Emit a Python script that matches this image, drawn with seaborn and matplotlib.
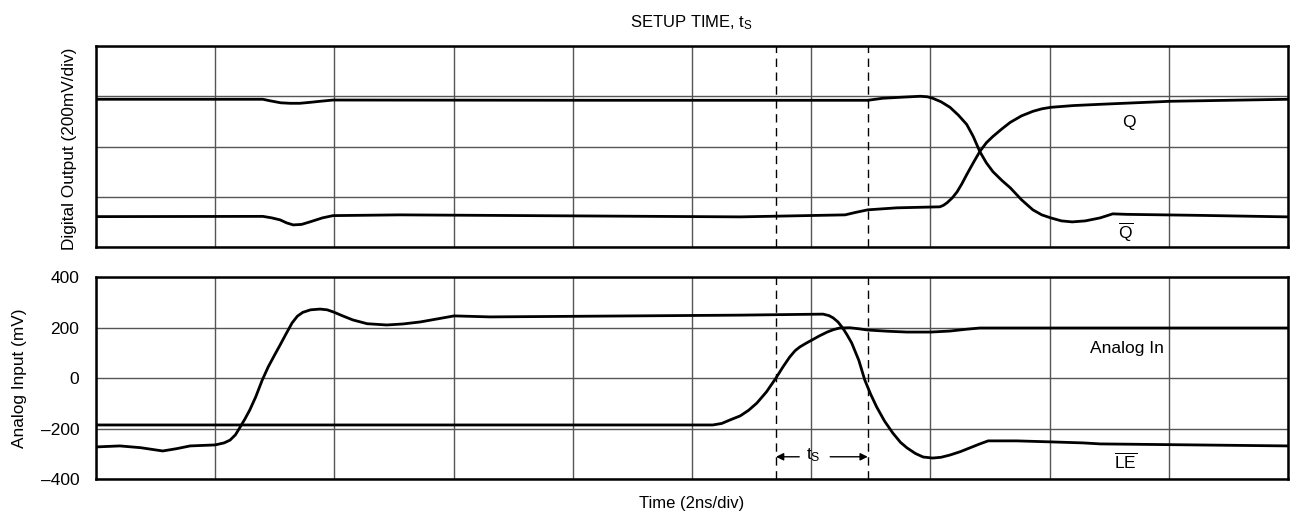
"""
Setup time scope capture: digital outputs (Q, Q-bar) and analog input / LE-bar.
"""

import numpy as np
import pandas as pd
import matplotlib
matplotlib.use("Agg")
import matplotlib.pyplot as plt
import seaborn as sns

# ── Data (time in ns, 2 ns/div) ─────────────
qbar_t = [0.0, 2.80, 2.92, 3.10, 3.26, 3.42, 3.60, 3.76, 3.98, 8.46, 12.95, 13.20, 13.50,
          13.83, 13.95, 14.04, 14.18, 14.33, 14.47, 14.61, 14.72, 14.83, 14.94, 15.05,
          15.20, 15.34, 15.53, 15.72, 15.87, 16.02, 16.20, 16.38, 16.60, 16.85, 17.06,
          17.30, 18.52, 20.0]
qbar_mv = [588, 588, 582, 574, 572, 572, 576, 580, 585, 584, 584, 592, 596,
           600, 598, 592, 578, 556, 525, 488, 440, 380, 335, 300,
           265, 236, 188, 148, 128, 116, 104, 100, 104, 116, 132,
           130, 126, 120]

q_t = [0.0, 2.80, 2.95, 3.09, 3.20, 3.31, 3.45, 3.59, 3.80, 3.98, 5.10, 10.81, 12.57,
       12.75, 12.95, 13.44, 14.16, 14.22, 14.28, 14.37, 14.45, 14.53, 14.61, 14.72,
       14.83, 14.94, 15.05, 15.20, 15.34, 15.53, 15.72, 15.87, 16.02, 16.40, 16.85,
       18.02, 20.0]
q_mv = [121, 122, 116, 108, 96, 88, 90, 100, 116, 125, 128, 120, 128,
        138, 148, 156, 160, 166, 176, 196, 220, 252, 288, 335,
        380, 415, 440, 470, 496, 522, 540, 550, 556, 563, 568,
        580, 588]

le_t = [0.0, 0.40, 0.75, 1.12, 1.35, 1.58, 2.00, 2.15, 2.25, 2.34, 2.42, 2.50, 2.58,
        2.68, 2.79, 2.89, 2.99, 3.09, 3.19, 3.29, 3.38, 3.47, 3.60, 3.76, 3.88, 3.99,
        4.15, 4.31, 4.55, 4.88, 5.15, 5.44, 5.75, 6.01, 6.61, 10.81, 12.20, 12.30,
        12.37, 12.45, 12.53, 12.60, 12.68, 12.80, 12.90, 13.00, 13.10, 13.23, 13.37,
        13.50, 13.61, 13.75, 13.88, 14.04, 14.18, 14.33, 14.50, 14.66, 14.82, 14.97,
        15.45, 16.02, 16.56, 16.85, 20.0]
le_mv = [-273, -269, -276, -289, -280, -269, -265, -257, -246, -225, -194, -162, -127,
         -75, -8, 44, 88, 131, 175, 218, 245, 260, 270, 273, 270, 261,
         245, 230, 215, 210, 214, 222, 235, 246, 242, 249, 253, 247,
         238, 222, 198, 172, 139, 70, -8, -65, -115, -170, -218,
         -255, -277, -299, -313, -317, -314, -305, -292, -277, -262, -249,
         -249, -253, -257, -261, -269]

ain_t = [0.0, 10.35, 10.50, 10.64, 10.81, 10.95, 11.09, 11.25, 11.41, 11.53, 11.64,
         11.73, 11.81, 11.91, 12.01, 12.14, 12.27, 12.38, 12.48, 12.65, 12.80, 12.95,
         13.30, 13.61, 14.01, 14.33, 14.60, 14.83, 20.0]
ain_mv = [-186, -186, -180, -166, -150, -128, -99, -55, 0, 45, 83,
          108, 123, 137, 150, 167, 182, 192, 198, 199, 195, 190,
          185, 182, 182, 186, 193, 198, 198]

ts_start, ts_end = 11.41, 12.95
ytick_vals = [-400, -200, 0, 200, 400]
ytick_labels = ["\u2013400", "\u2013200", "0", "200", "400"]

# ── Style ───────────────────────────────────
sns.set_theme(style="white")
plt.rcParams["font.family"] = ["Liberation Sans", "DejaVu Sans"]
plt.rcParams["mathtext.fontset"] = "custom"
plt.rcParams["mathtext.rm"] = "Liberation Sans"
plt.rcParams["mathtext.it"] = "Liberation Sans"
plt.rcParams["text.color"] = "black"
plt.rcParams["ytick.color"] = "black"
plt.rcParams["ytick.labelcolor"] = "black"

FS = 12
GRID = "#555555"
fig = plt.figure(figsize=(12.97, 5.17), dpi=100, facecolor="white")
ax_top = fig.add_axes([0.0740, 0.5222, 0.9190, 0.3888])
ax_bot = fig.add_axes([0.0740, 0.0735, 0.9190, 0.3907])


def style_axes(ax, ylim, step):
    ax.set_xlim(0, 20)
    ax.set_ylim(*ylim)
    ax.set_xticks(np.arange(0, 21, 2))
    ax.set_yticks(np.arange(ylim[0], ylim[1] + 1, step))
    ax.grid(True, color=GRID, lw=1.0)
    ax.tick_params(length=0)
    ax.set_xticklabels([])
    ax.set_xlabel("")
    ax.set_ylabel("")
    for sp in ax.spines.values():
        sp.set_visible(True)
        sp.set_color("black")
        sp.set_linewidth(1.8)
    ax.axvline(ts_start, color="black", lw=1.0, ls=(0, (6, 4)), zorder=3)
    ax.axvline(ts_end, color="black", lw=1.0, ls=(0, (6, 4)), zorder=3)


# ── Top: digital output ─────────────────────
top_df = pd.concat([
    pd.DataFrame({"t": qbar_t, "v": qbar_mv, "sig": "Qbar"}),
    pd.DataFrame({"t": q_t, "v": q_mv, "sig": "Q"}),
])
sns.lineplot(data=top_df, x="t", y="v", units="sig", estimator=None, sort=False,
             color="black", lw=2.0, ax=ax_top, legend=False, zorder=4)
style_axes(ax_top, (0, 800), 200)
ax_top.set_yticklabels([])
ax_top.text(0.5, 1.118, "SETUP TIME, t$_\\mathrm{S}$", transform=ax_top.transAxes,
            ha="center", va="center", fontsize=FS)
ax_top.text(-0.0225, 0.49, "Digital Output (200mV/div)", transform=ax_top.transAxes,
            rotation=90, ha="center", va="center", fontsize=FS + 0.4)
ax_top.text(17.33, 496, "Q", ha="center", va="center", fontsize=FS + 0.5)
ax_top.text(17.28, 60, "$\\overline{\\mathrm{Q}}$", ha="center", va="center", fontsize=FS + 0.5)

# ── Bottom: analog input ────────────────────
bot_df = pd.concat([
    pd.DataFrame({"t": le_t, "v": le_mv, "sig": "LE"}),
    pd.DataFrame({"t": ain_t, "v": ain_mv, "sig": "AIN"}),
])
sns.lineplot(data=bot_df, x="t", y="v", units="sig", estimator=None, sort=False,
             color="black", lw=2.0, ax=ax_bot, legend=False, zorder=4)
style_axes(ax_bot, (-400, 400), 200)
ax_bot.set_yticks(ytick_vals)
ax_bot.set_yticklabels(ytick_labels, fontsize=FS + 0.5, color="black")
ax_bot.tick_params(axis="y", pad=12)
ax_bot.text(-0.064, 0.5, "Analog Input (mV)", transform=ax_bot.transAxes,
            rotation=90, ha="center", va="center", fontsize=FS + 0.4)
ax_bot.text(0.5, -0.119, "Time (2ns/div)", transform=ax_bot.transAxes,
            ha="center", va="center", fontsize=FS)
ax_bot.text(17.3, 115, "Analog In", ha="center", va="center", fontsize=FS + 0.5)
ax_bot.text(17.28, -330, "$\\overline{\\mathrm{LE}}$", ha="center", va="center", fontsize=FS + 0.5)

# t_S arrows
ax_bot.text(12.03, -305, "t$_\\mathrm{S}$", ha="center", va="center", fontsize=FS + 0.5)
arrow = dict(arrowstyle="-|>", color="black", lw=1.0, mutation_scale=11,
             shrinkA=0, shrinkB=0)
ax_bot.annotate("", xy=(ts_start, -312), xytext=(11.80, -312), arrowprops=arrow)
ax_bot.annotate("", xy=(ts_end, -312), xytext=(12.32, -312), arrowprops=arrow)

plt.savefig("out.png", dpi=100, facecolor="white")
